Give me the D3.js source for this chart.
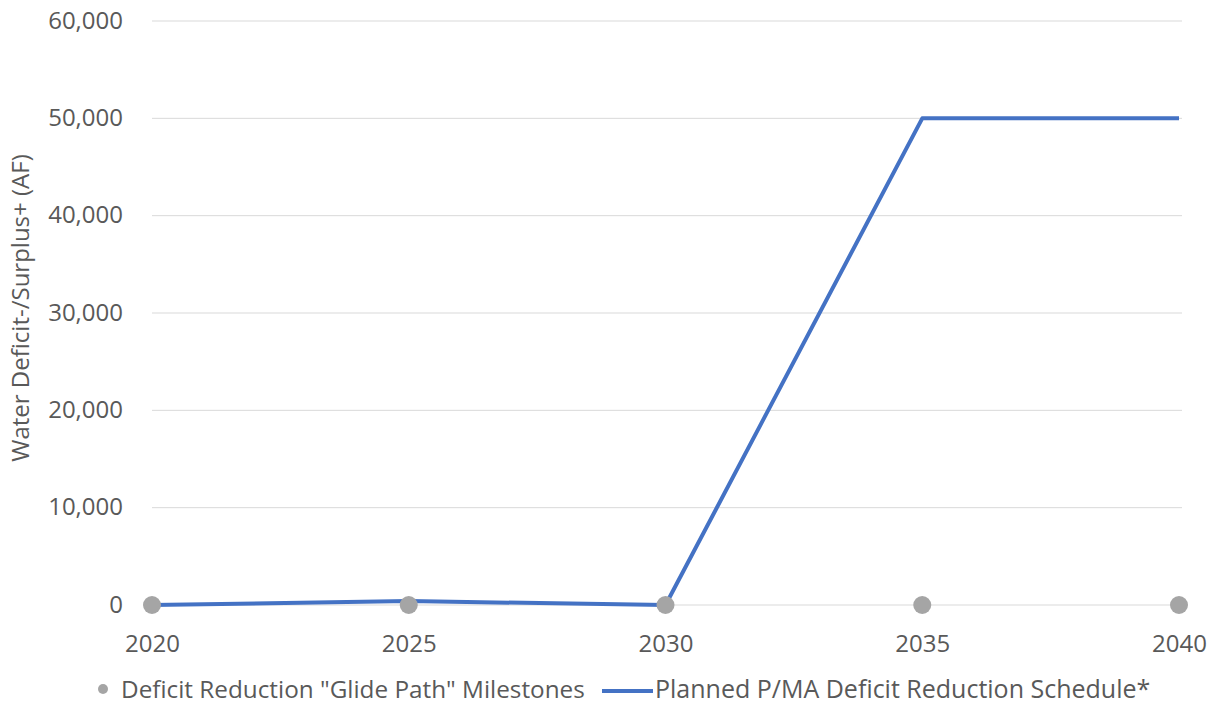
<!DOCTYPE html>
<html>
<head>
<meta charset="utf-8">
<script src="https://cdn.jsdelivr.net/npm/d3@7"></script>
<style>
  body { margin: 0; background: #fff; }
  text { font-family: "Open Sans", "Noto Sans", sans-serif; fill: #595959; }
</style>
</head>
<body>
<div id="chart-area"></div>
<script>
// data
var years = ["2020", "2025", "2030", "2035", "2040"];
var milestones = [0, 0, 0, 0, 0];
var planned = [0, 400, 0, 50000, 50000];
var yTicks = [0, 10000, 20000, 30000, 40000, 50000, 60000];

var W = 1219, H = 712;

var svg = d3.select("#chart-area").append("svg")
    .attr("width", W)
    .attr("height", H);

var x = d3.scalePoint().domain(years).range([152, 1179]);
var y = d3.scaleLinear().domain([0, 60000]).range([605, 21]);

// gridlines
svg.append("g")
    .selectAll("line")
    .data(yTicks)
    .enter().append("line")
    .attr("x1", 152)
    .attr("x2", 1182)
    .attr("y1", d => y(d))
    .attr("y2", d => y(d))
    .attr("stroke", "#d9d9d9")
    .attr("stroke-width", 1);

// y axis
var yAxis = svg.append("g")
    .attr("transform", "translate(123,0)")
    .call(d3.axisLeft(y).tickValues(yTicks).tickFormat(d3.format(",")).tickSize(0).tickPadding(0));
yAxis.select(".domain").remove();
yAxis.selectAll("text")
    .attr("font-size", "24px")
    .attr("dy", "0.3em")
    .style("font-family", "'Open Sans', sans-serif")
    .attr("fill", "#636363");

// x axis
var xAxis = svg.append("g")
    .attr("transform", "translate(0,652)")
    .call(d3.axisBottom(x).tickSize(0).tickPadding(0));
xAxis.select(".domain").remove();
xAxis.selectAll("text")
    .attr("font-size", "24px")
    .attr("dy", "0")
    .style("font-family", "'Open Sans', sans-serif")
    .attr("fill", "#636363");

// y label
svg.append("text")
    .attr("transform", "rotate(-90)")
    .attr("x", -308)
    .attr("y", 29)
    .attr("text-anchor", "middle")
    .attr("font-size", "24px")
    .attr("fill", "#636363")
    .text("Water Deficit-/Surplus+ (AF)");

// planned line
var line = d3.line()
    .x((d, i) => x(years[i]))
    .y(d => y(d));

svg.append("path")
    .attr("d", line(planned))
    .attr("fill", "none")
    .attr("stroke", "#4472c4")
    .attr("stroke-width", 4)
    .attr("stroke-linejoin", "round");

// milestones
svg.append("g")
    .selectAll("circle")
    .data(milestones)
    .enter().append("circle")
    .attr("cx", (d, i) => x(years[i]))
    .attr("cy", d => y(d))
    .attr("r", 9)
    .attr("fill", "#a5a5a5");

// legend
var leg = svg.append("g").attr("transform", "translate(0,689)");
leg.append("circle")
    .attr("cx", 103)
    .attr("cy", 0)
    .attr("r", 5)
    .attr("fill", "#a5a5a5");
leg.append("text")
    .attr("x", 121)
    .attr("y", 0)
    .attr("dy", "0.35em")
    .attr("font-size", "24.3px")
    .attr("fill", "#636363")
    .text("Deficit Reduction \"Glide Path\" Milestones");
leg.append("line")
    .attr("x1", 602)
    .attr("x2", 653)
    .attr("y1", 2)
    .attr("y2", 2)
    .attr("stroke", "#4472c4")
    .attr("stroke-width", 4);
leg.append("text")
    .attr("x", 655)
    .attr("y", 0)
    .attr("dy", "0.35em")
    .attr("font-size", "25px")
    .attr("fill", "#636363")
    .text("Planned P/MA Deficit Reduction Schedule*");
</script>
</body>
</html>
